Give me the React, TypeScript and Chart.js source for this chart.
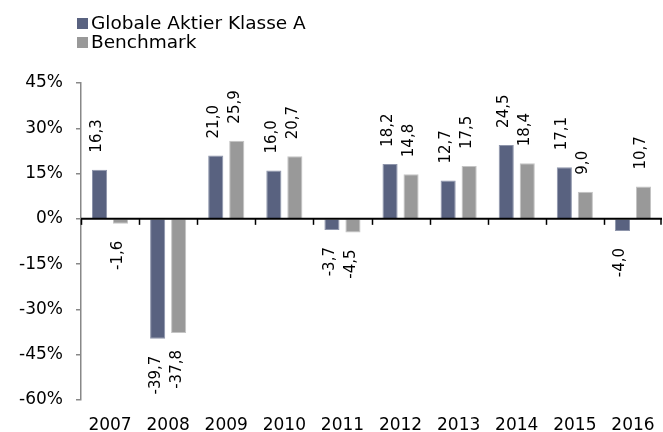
import React, { useEffect, useRef } from "react";
import { Chart, registerables } from "chart.js";

Chart.register(...registerables);

const years = ["2007", "2008", "2009", "2010", "2011", "2012", "2013", "2014", "2015", "2016"];
const fundValues = [16.3, -39.7, 21.0, 16.0, -3.7, 18.2, 12.7, 24.5, 17.1, -4.0];
const benchmarkValues = [-1.6, -37.8, 25.9, 20.7, -4.5, 14.8, 17.5, 18.4, 9.0, 10.7];
const seriesNames = ["Globale Aktier Klasse A", "Benchmark"];
const seriesColors = ["#596280", "#999999"];
const seriesBorders = ["#8e95ab", "#c4c4c4"];
const yTicks = [-60, -45, -30, -15, 0, 15, 30, 45];

const FONT = "'DejaVu Sans', Verdana, sans-serif";

const fmt = (v: number) => v.toFixed(1).replace(".", ",");

const overlayPlugin = {
  id: "overlay",
  afterDatasetsDraw(chart: any) {
    const ctx = chart.ctx;
    const y = chart.scales.y;
    const area = chart.chartArea;
    const y0 = y.getPixelForValue(0);
    ctx.save();
    // zero line
    ctx.strokeStyle = "#000";
    ctx.lineWidth = 2;
    ctx.beginPath();
    ctx.moveTo(area.left, y0);
    ctx.lineTo(area.right, y0);
    ctx.stroke();
    // category boundary ticks
    const n = years.length;
    const w = (area.right - area.left) / n;
    ctx.lineWidth = 1.5;
    for (let i = 0; i <= n; i++) {
      const px = Math.round(area.left + i * w) + (i === n ? -1 : 0.5);
      ctx.beginPath();
      ctx.moveTo(px, y0);
      ctx.lineTo(px, y0 + 6);
      ctx.stroke();
    }
    // data labels
    ctx.fillStyle = "#000";
    ctx.font = `15px ${FONT}`;
    ctx.textBaseline = "middle";
    chart.data.datasets.forEach((ds: any, di: number) => {
      const meta = chart.getDatasetMeta(di);
      meta.data.forEach((bar: any, i: number) => {
        const v = ds.data[i];
        const txt = fmt(v);
        ctx.save();
        if (v >= 0) {
          ctx.translate(bar.x - 2, bar.y - 17);
          ctx.rotate(-Math.PI / 2);
          ctx.textAlign = "left";
        } else {
          ctx.translate(bar.x - 2, bar.y + 17);
          ctx.rotate(-Math.PI / 2);
          ctx.textAlign = "right";
        }
        ctx.fillText(txt, 0, 0);
        ctx.restore();
      });
    });
    // legend
    ctx.font = `18.5px ${FONT}`;
    ctx.textAlign = "left";
    ctx.textBaseline = "middle";
    const rows = [24, 43];
    seriesNames.forEach((name, i) => {
      ctx.fillStyle = seriesColors[i];
      ctx.fillRect(77, rows[i] - 6, 11, 11);
      ctx.fillStyle = "#000";
      ctx.fillText(name, 91, rows[i]);
    });
    ctx.restore();
  },
};

export default function App() {
  const ref = useRef<HTMLCanvasElement>(null);
  useEffect(() => {
    if (!ref.current) return;
    const chart = new Chart(ref.current, {
      type: "bar",
      data: {
        labels: years,
        datasets: [
          {
            label: seriesNames[0],
            data: fundValues,
            backgroundColor: seriesColors[0],
            borderColor: seriesBorders[0],
            borderWidth: 1,
            categoryPercentage: 0.723,
            barPercentage: 0.72,
          },
          {
            label: seriesNames[1],
            data: benchmarkValues,
            backgroundColor: seriesColors[1],
            borderColor: seriesBorders[1],
            borderWidth: 1,
            categoryPercentage: 0.723,
            barPercentage: 0.72,
          },
        ],
      },
      options: {
        animation: false,
        responsive: false,
        maintainAspectRatio: false,
        layout: { padding: { top: 83, left: 0, right: 1, bottom: 0 } },
        plugins: {
          legend: { display: false },
          tooltip: { enabled: false },
        },
        scales: {
          x: {
            grid: { display: false },
            border: { display: false },
            ticks: {
              color: "#000",
              font: { family: FONT, size: 17 },
              padding: 7,
              maxRotation: 0,
              autoSkip: false,
            },
            afterFit: (s: any) => {
              s.height = 32;
            },
          },
          y: {
            min: -60,
            max: 45,
            afterBuildTicks: (s: any) => {
              s.ticks = yTicks.map((v) => ({ value: v }));
            },
            grid: {
              drawOnChartArea: false,
              drawTicks: true,
              tickLength: 5,
              color: "#888",
              lineWidth: 1.5,
            },
            border: { display: true, color: "#888", width: 1.5 },
            ticks: {
              color: "#000",
              font: { family: FONT, size: 17 },
              padding: 13,
              callback: (v: any) => `${v}%`,
            },
            afterFit: (s: any) => {
              s.width = 81;
            },
          },
        },
      },
      plugins: [overlayPlugin],
    });
    return () => chart.destroy();
  }, []);
  return (
    <div style={{ position: "fixed", left: 0, top: 0, width: 663, height: 432, background: "#fff" }}>
      <canvas ref={ref} width={663} height={432} style={{ width: 663, height: 432 }} />
    </div>
  );
}
